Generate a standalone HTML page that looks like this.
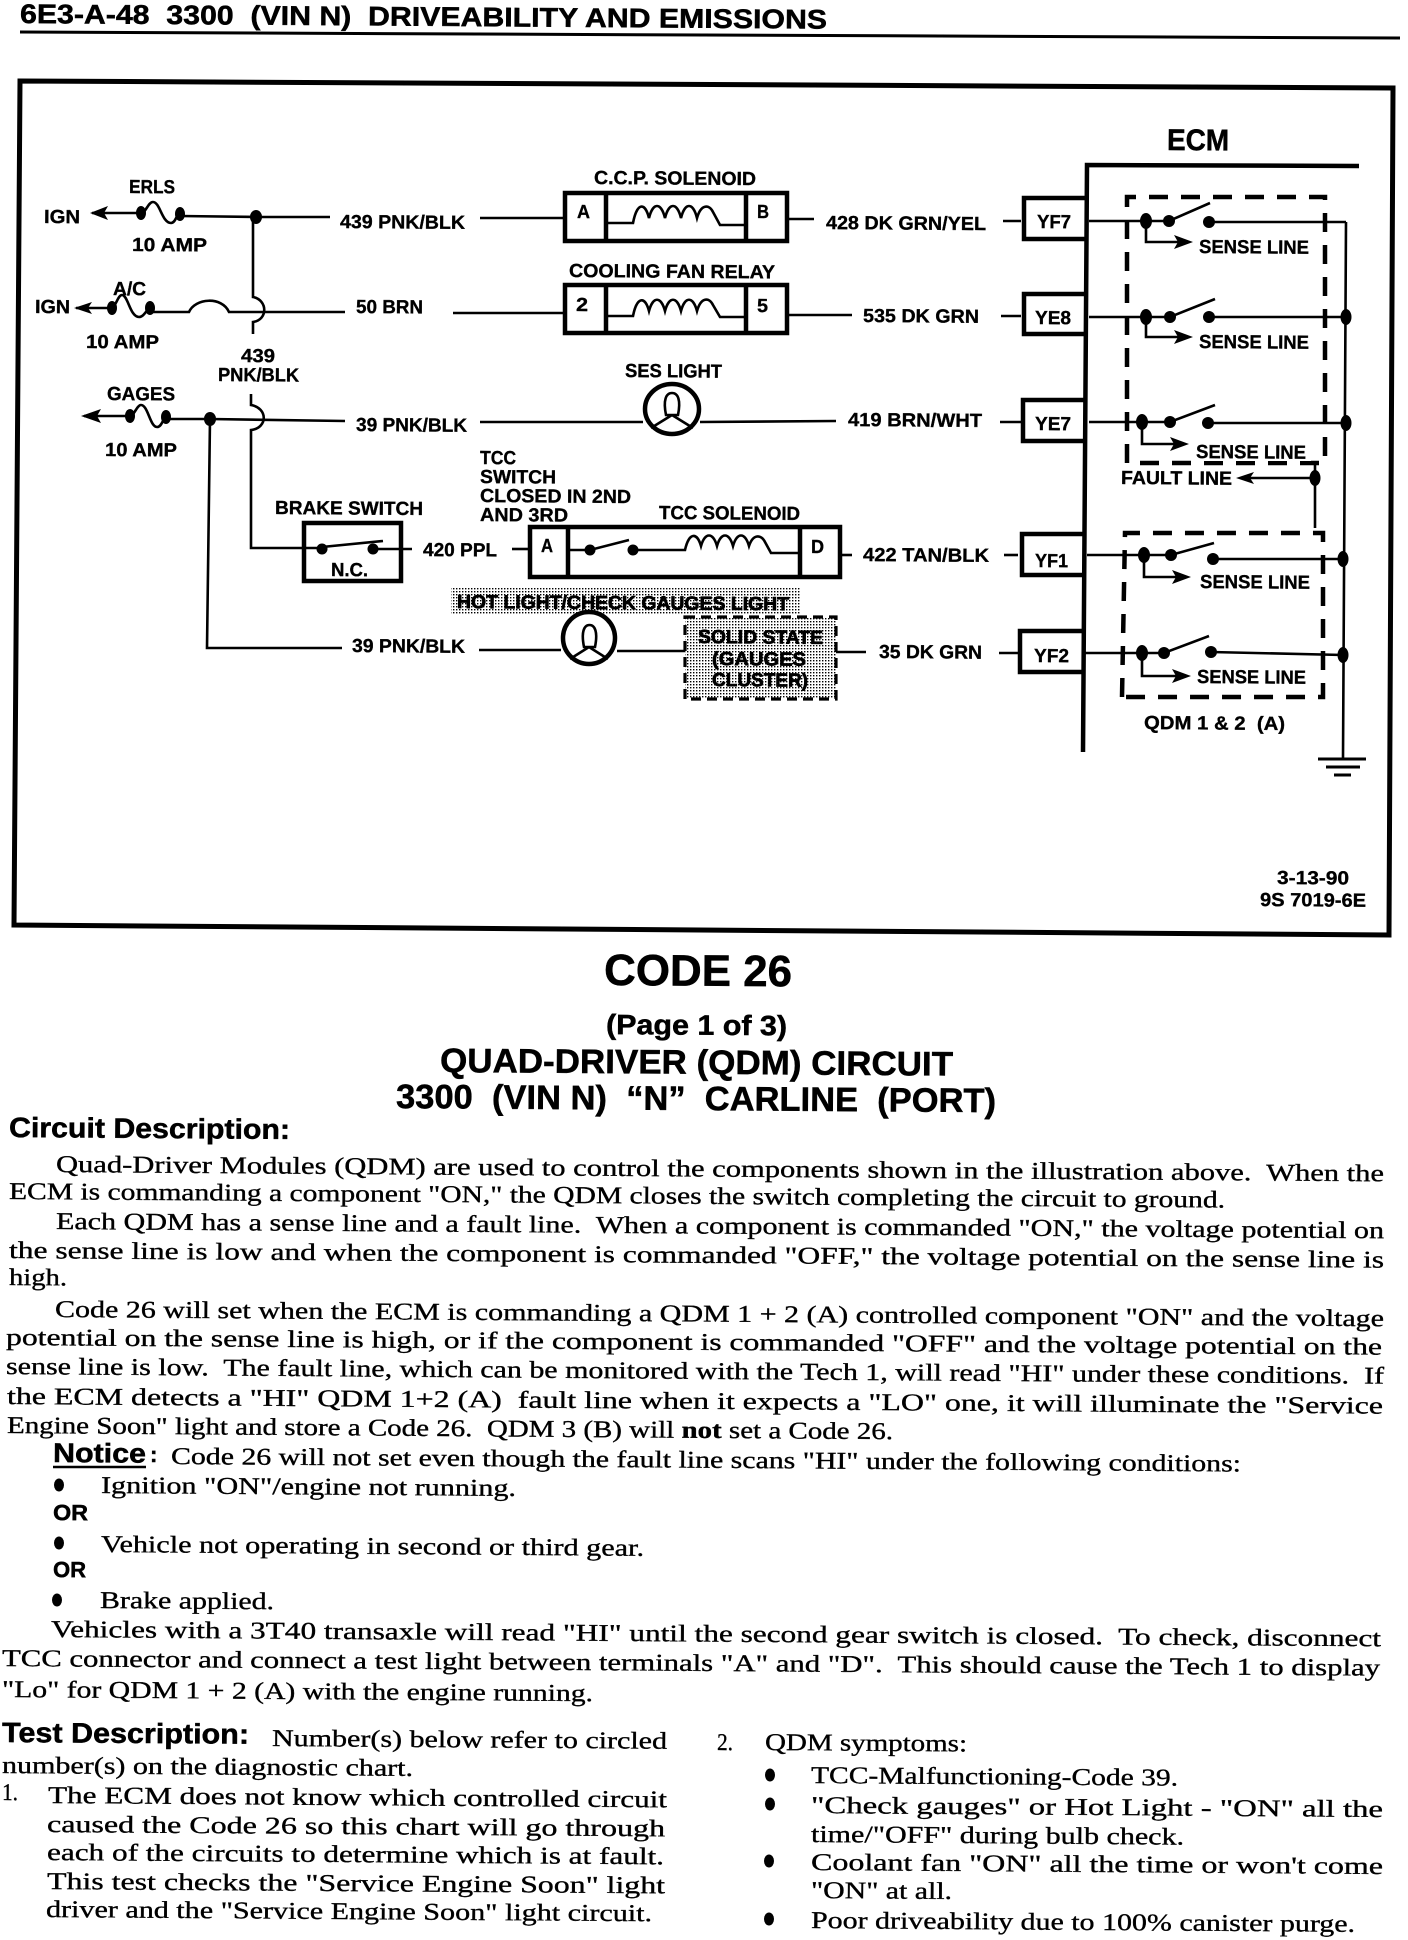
<!DOCTYPE html>
<html><head><meta charset="utf-8"><style>
html,body{margin:0;padding:0;background:#fff}
svg{display:block}
text{fill:#000;transform-box:fill-box;transform-origin:0 78%;transform:rotate(.4deg);white-space:pre}
.l{font:bold 19px "Liberation Sans",sans-serif;stroke:#000;stroke-width:.35}
.h{font-family:"Liberation Sans",sans-serif;font-weight:bold;stroke:#000;stroke-width:.5}
.b{font:24px "Liberation Serif",serif;stroke:#000;stroke-width:.35}
.w{fill:none;stroke:#000;stroke-width:2.6}
.t{fill:none;stroke:#000;stroke-width:4.5}
.d{fill:none;stroke:#000;stroke-width:4.5;stroke-dasharray:19 13}
</style></head><body>
<svg width="1408" height="1940" viewBox="0 0 1408 1940" xmlns="http://www.w3.org/2000/svg">
<defs><pattern id="dots" width="3" height="3" patternUnits="userSpaceOnUse"><rect width="1.4" height="1.4" fill="#000"/></pattern></defs>
<rect width="1408" height="1940" fill="#fff"/>

<!-- header -->
<text class="h" x="20" y="23" font-size="27" textLength="807" lengthAdjust="spacingAndGlyphs">6E3-A-48  3300  (VIN N)  DRIVEABILITY AND EMISSIONS</text>
<path d="M20 32 L704 35 L1400 38" fill="none" stroke="#000" stroke-width="3"/>

<!-- frame -->
<path d="M20 81 L1393 88 L1389 935 L14 925 Z" fill="none" stroke="#000" stroke-width="5"/>

<!-- left fuses -->
<g class="w">
<path d="M92 213 H141"/><path d="M141 213 C146 213 148 202 153 202 C160 202 162 223 171 223 C176 223 176 214 180 214"/>
<path d="M180 216 L256 217 H330"/>
<path d="M253 217 V297 C268 300 268 320 253 322 V334"/>
<path d="M76 308 H112"/><path d="M112 308 C116 306 118 295 122 295 C128 295 130 317 139 317 C144 317 146 310 150 308"/>
<path d="M150 312 H189 C195 298 222 296 229 312 H345"/>
<path d="M84 416 H130"/><path d="M130 416 C134 416 137 405 141 405 C148 405 150 427 157 427 C162 427 163 418 166 417"/>
<path d="M166 419 H210 L345 421"/>
<path d="M251 394 V405 C268 408 268 428 251 430 V548 H302"/>
<path d="M210 419 L207 648 H342"/>
<path d="M480 218 H565"/><path d="M453 313 H565"/><path d="M480 422 H643"/><path d="M700 422 L836 421"/>
<path d="M479 650 H561"/><path d="M617 651 H685"/><path d="M836 652 H866"/>
<path d="M789 219 H814"/><path d="M1003 221 H1021"/>
<path d="M788 315 H852"/><path d="M1001 316 H1021"/>
<path d="M1000 422 H1021"/>
<path d="M841 555 H852"/><path d="M1004 555 H1018"/>
<path d="M999 653 H1018"/>
<path d="M412 549 H373"/><path d="M512 549 H528"/>
</g>
<g fill="#000">
<path d="M90 213 L108 206 L104 213 L108 220 Z"/>
<path d="M74 308 L92 302 L88 308 L92 314 Z"/>
<path d="M81 416 L101 409 L97 416 L101 423 Z"/>
<ellipse cx="141" cy="213" rx="5" ry="7"/><ellipse cx="180" cy="214" rx="5" ry="7"/><ellipse cx="256" cy="217" rx="6" ry="7"/>
<ellipse cx="112" cy="308" rx="5" ry="7"/><ellipse cx="150" cy="308" rx="5" ry="7"/>
<ellipse cx="130" cy="416" rx="5" ry="7"/><ellipse cx="166" cy="417" rx="5" ry="7"/><ellipse cx="210" cy="419" rx="6" ry="7"/>
</g>
<text class="l" x="129" y="193" textLength="46" lengthAdjust="spacingAndGlyphs">ERLS</text>
<text class="l" x="44" y="223" textLength="36" lengthAdjust="spacingAndGlyphs">IGN</text>
<text class="l" x="132" y="251" textLength="75" lengthAdjust="spacingAndGlyphs">10 AMP</text>
<text class="l" x="340" y="228" textLength="125" lengthAdjust="spacingAndGlyphs">439 PNK/BLK</text>
<text class="l" x="113" y="295" textLength="33" lengthAdjust="spacingAndGlyphs">A/C</text>
<text class="l" x="35" y="313" textLength="35" lengthAdjust="spacingAndGlyphs">IGN</text>
<text class="l" x="86" y="348" textLength="73" lengthAdjust="spacingAndGlyphs">10 AMP</text>
<text class="l" x="356" y="313" textLength="67" lengthAdjust="spacingAndGlyphs">50 BRN</text>
<text class="l" x="241" y="362" textLength="34" lengthAdjust="spacingAndGlyphs">439</text>
<text class="l" x="218" y="381" textLength="81" lengthAdjust="spacingAndGlyphs">PNK/BLK</text>
<text class="l" x="107" y="400" textLength="68" lengthAdjust="spacingAndGlyphs">GAGES</text>
<text class="l" x="105" y="456" textLength="72" lengthAdjust="spacingAndGlyphs">10 AMP</text>
<text class="l" x="356" y="431" textLength="111" lengthAdjust="spacingAndGlyphs">39 PNK/BLK</text>
<text class="l" x="352" y="652" textLength="113" lengthAdjust="spacingAndGlyphs">39 PNK/BLK</text>

<!-- CCP solenoid -->
<text class="l" x="594" y="184" textLength="162" lengthAdjust="spacingAndGlyphs">C.C.P. SOLENOID</text>
<rect x="565" y="193" width="222" height="48" class="t"/>
<path d="M606 193 V241 M746 193 V241" class="t"/>
<path d="M606 223 H633 C637 202 645 202 649 218 C653 202 661 202 665 218 C669 202 677 202 681 218 C685 202 693 202 697 218 C701 204 709 204 713 212 L720 225 H746" class="w"/>
<text class="l" x="577" y="218" textLength="13" lengthAdjust="spacingAndGlyphs">A</text>
<text class="l" x="757" y="218" textLength="12" lengthAdjust="spacingAndGlyphs">B</text>
<text class="l" x="826" y="229" textLength="160" lengthAdjust="spacingAndGlyphs">428 DK GRN/YEL</text>

<!-- cooling fan relay -->
<text class="l" x="569" y="277" textLength="206" lengthAdjust="spacingAndGlyphs">COOLING FAN RELAY</text>
<rect x="565" y="285" width="222" height="48" class="t"/>
<path d="M606 285 V333 M746 285 V333" class="t"/>
<path d="M606 316 H633 C637 296 645 296 649 311 C653 296 661 296 665 311 C669 296 677 296 681 311 C685 296 693 296 697 311 C701 297 709 297 713 305 L720 317 H746" class="w"/>
<text class="l" x="576" y="311" textLength="12" lengthAdjust="spacingAndGlyphs">2</text>
<text class="l" x="757" y="312" textLength="11" lengthAdjust="spacingAndGlyphs">5</text>
<text class="l" x="863" y="322" textLength="116" lengthAdjust="spacingAndGlyphs">535 DK GRN</text>

<!-- SES light -->
<text class="l" x="625" y="377" textLength="97" lengthAdjust="spacingAndGlyphs">SES LIGHT</text>
<ellipse cx="672" cy="409" rx="27" ry="25" class="t"/>
<path d="M666 415 C663 400 666 393 672 393 C678 393 681 400 678 415 Z M672 415 L651 428 M672 415 L693 428" class="w"/>
<text class="l" x="848" y="426" textLength="134" lengthAdjust="spacingAndGlyphs">419 BRN/WHT</text>

<!-- TCC labels -->
<text class="l" x="480" y="464" textLength="36" lengthAdjust="spacingAndGlyphs">TCC</text>
<text class="l" x="480" y="483" textLength="76" lengthAdjust="spacingAndGlyphs">SWITCH</text>
<text class="l" x="480" y="502" textLength="151" lengthAdjust="spacingAndGlyphs">CLOSED IN 2ND</text>
<text class="l" x="480" y="521" textLength="88" lengthAdjust="spacingAndGlyphs">AND 3RD</text>
<text class="l" x="659" y="519" textLength="141" lengthAdjust="spacingAndGlyphs">TCC SOLENOID</text>

<!-- brake switch -->
<text class="l" x="275" y="514" textLength="148" lengthAdjust="spacingAndGlyphs">BRAKE SWITCH</text>
<rect x="304" y="523" width="97" height="58" class="t"/>
<circle cx="322" cy="549" r="5.5"/><circle cx="373" cy="549" r="5.5"/>
<path d="M322 547 L383 541 M302 548 H322" class="w"/>
<text class="l" x="331" y="576" textLength="37" lengthAdjust="spacingAndGlyphs">N.C.</text>
<text class="l" x="423" y="556" textLength="74" lengthAdjust="spacingAndGlyphs">420 PPL</text>

<!-- TCC box -->
<rect x="530" y="527" width="310" height="50" class="t"/>
<path d="M568 527 V577 M800 527 V577" class="t"/>
<circle cx="590" cy="550" r="5.5"/><circle cx="633" cy="550" r="5.5"/>
<path d="M568 550 H590 L629 540 M633 550 H685 C689 532 697 532 701 546 C705 532 713 532 717 546 C721 532 729 532 733 546 C737 532 745 532 749 546 C753 534 761 534 765 542 L771 553 H800" class="w"/>
<text class="l" x="541" y="552" textLength="12" lengthAdjust="spacingAndGlyphs">A</text>
<text class="l" x="811" y="553" textLength="13" lengthAdjust="spacingAndGlyphs">D</text>
<text class="l" x="863" y="561" textLength="126" lengthAdjust="spacingAndGlyphs">422 TAN/BLK</text>

<!-- hot light -->
<rect x="451" y="587" width="349" height="28" fill="url(#dots)"/>
<text class="l" x="457" y="608" textLength="332" lengthAdjust="spacingAndGlyphs" style="stroke-width:.7">HOT LIGHT/CHECK GAUGES LIGHT</text>
<ellipse cx="589" cy="638" rx="26" ry="26" fill="#fff" class="t"/>
<path d="M584 647 C581 632 584 625 589.500 625 C595 625 598 632 595 647 Z M589 647 L570 659 M589 647 L608 659" class="w"/>
<rect x="685" y="617" width="151" height="82" fill="url(#dots)"/>
<rect x="685" y="617" width="151" height="82" fill="none" stroke="#000" stroke-width="3.200" stroke-dasharray="10 6"/>
<text class="l" x="698" y="643" textLength="125" lengthAdjust="spacingAndGlyphs" style="stroke-width:.7">SOLID STATE</text>
<text class="l" x="712" y="665" textLength="94" lengthAdjust="spacingAndGlyphs" style="stroke-width:.7">(GAUGES</text>
<text class="l" x="712" y="686" textLength="96" lengthAdjust="spacingAndGlyphs" style="stroke-width:.7">CLUSTER)</text>
<text class="l" x="879" y="658" textLength="103" lengthAdjust="spacingAndGlyphs">35 DK GRN</text>

<!-- ECM -->
<text class="h" x="1167" y="150" font-size="30" textLength="62" lengthAdjust="spacingAndGlyphs">ECM</text>
<path d="M1359 166 L1087 165 L1083 752" class="t" stroke-width="5"/>
<g class="t">
<path d="M1087 198 H1024 V239 H1087"/>
<path d="M1087 294 H1024 V334 H1087"/>
<path d="M1086 400 H1023 V441 H1086"/>
<path d="M1085 534 H1022 V575 H1085"/>
<path d="M1084 631 H1020 V672 H1084"/>
</g>
<text class="l" x="1037" y="228" textLength="34" lengthAdjust="spacingAndGlyphs">YF7</text>
<text class="l" x="1035" y="324" textLength="36" lengthAdjust="spacingAndGlyphs">YE8</text>
<text class="l" x="1035" y="430" textLength="36" lengthAdjust="spacingAndGlyphs">YE7</text>
<text class="l" x="1035" y="567" textLength="33" lengthAdjust="spacingAndGlyphs">YF1</text>
<text class="l" x="1034" y="662" textLength="35" lengthAdjust="spacingAndGlyphs">YF2</text>

<!-- dashed QDM boxes -->
<path d="M1127 463 V197 H1325 V463 H1127" class="d"/>
<path d="M1122 697 L1125 533 H1323 V697 H1122" class="d"/>

<!-- switch rows -->
<g class="w">
<path d="M1089 221 H1169 L1210 203 M1209 222 H1346 M1346 222 L1343 758"/>
<path d="M1146 221 V242 H1180"/>
<path d="M1089 317 H1170 L1215 299 M1209 317 H1346"/>
<path d="M1146 317 V337 H1180"/>
<path d="M1089 422 H1170 L1215 405 M1208 423 H1346"/>
<path d="M1142 422 V444 H1176"/>
<path d="M1087 555 H1171 L1214 543 M1213 559 H1343"/>
<path d="M1144 555 V577 H1178"/>
<path d="M1085 653 H1164 L1209 636 M1211 652 L1343 655"/>
<path d="M1142 653 V676 H1178"/>
<path d="M1315 463 V528 M1315 478 H1250"/>
</g>
<g fill="#000">
<ellipse cx="1146" cy="221" rx="6" ry="8"/><circle cx="1169" cy="221" r="6"/><circle cx="1209" cy="222" r="6"/>
<ellipse cx="1146" cy="317" rx="6" ry="8"/><circle cx="1170" cy="317" r="6"/><circle cx="1209" cy="317" r="6"/>
<ellipse cx="1142" cy="422" rx="6" ry="8"/><circle cx="1170" cy="422" r="6"/><circle cx="1208" cy="423" r="6"/>
<ellipse cx="1144" cy="555" rx="6" ry="8"/><circle cx="1171" cy="555" r="6"/><circle cx="1213" cy="559" r="6"/>
<ellipse cx="1142" cy="653" rx="6" ry="8"/><circle cx="1164" cy="653" r="6"/><circle cx="1211" cy="652" r="6"/>
<ellipse cx="1346" cy="317" rx="5.500" ry="8"/><ellipse cx="1346" cy="423" rx="5.500" ry="8"/><ellipse cx="1343" cy="559" rx="5.500" ry="8"/><ellipse cx="1343" cy="655" rx="5.500" ry="8"/><ellipse cx="1315" cy="478" rx="5.500" ry="8"/>
<path d="M1193 242 L1174 235 L1178 242 L1174 249 Z"/>
<path d="M1193 337 L1174 330 L1178 337 L1174 344 Z"/>
<path d="M1189 444 L1170 437 L1174 444 L1170 451 Z"/>
<path d="M1191 577 L1172 570 L1176 577 L1172 584 Z"/>
<path d="M1191 676 L1172 669 L1176 676 L1172 683 Z"/>
<path d="M1236 478 L1254 472 L1250 478 L1254 484 Z"/>
</g>
<rect x="1193" y="443" width="118" height="18" fill="#fff"/>
<text class="l" x="1199" y="253" textLength="110" lengthAdjust="spacingAndGlyphs">SENSE LINE</text>
<text class="l" x="1199" y="348" textLength="110" lengthAdjust="spacingAndGlyphs">SENSE LINE</text>
<text class="l" x="1196" y="458" textLength="110" lengthAdjust="spacingAndGlyphs">SENSE LINE</text>
<text class="l" x="1200" y="588" textLength="110" lengthAdjust="spacingAndGlyphs">SENSE LINE</text>
<text class="l" x="1197" y="683" textLength="109" lengthAdjust="spacingAndGlyphs">SENSE LINE</text>
<text class="l" x="1121" y="484" textLength="111" lengthAdjust="spacingAndGlyphs">FAULT LINE</text>
<text class="l" x="1144" y="729" textLength="141" lengthAdjust="spacingAndGlyphs">QDM 1 &amp; 2  (A)</text>
<path d="M1318 759 H1366 M1326 767 H1360 M1334 775 H1351" fill="none" stroke="#000" stroke-width="3"/>
<text class="l" x="1277" y="884" textLength="72" lengthAdjust="spacingAndGlyphs">3-13-90</text>
<text class="l" x="1260" y="906" textLength="106" lengthAdjust="spacingAndGlyphs">9S 7019-6E</text>

<!-- headings -->
<text class="h" x="604" y="985" font-size="44" textLength="188" lengthAdjust="spacingAndGlyphs">CODE 26</text>
<text class="h" x="606" y="1034" font-size="28" textLength="181" lengthAdjust="spacingAndGlyphs">(Page 1 of 3)</text>
<text class="h" x="440" y="1072" font-size="34" textLength="513" lengthAdjust="spacingAndGlyphs">QUAD-DRIVER (QDM) CIRCUIT</text>
<text class="h" x="396" y="1108" font-size="34" textLength="600" lengthAdjust="spacingAndGlyphs">3300  (VIN N)  “N”  CARLINE  (PORT)</text>
<text class="h" x="9" y="1137" font-size="28" textLength="281" lengthAdjust="spacingAndGlyphs">Circuit Description:</text>

<!-- body -->
<text class="b" x="56" y="1172" textLength="1328" lengthAdjust="spacingAndGlyphs">Quad-Driver Modules (QDM) are used to control the components shown in the illustration above.  When the</text>
<text class="b" x="9" y="1199" textLength="1216" lengthAdjust="spacingAndGlyphs">ECM is commanding a component "ON," the QDM closes the switch completing the circuit to ground.</text>
<text class="b" x="56" y="1229" textLength="1328" lengthAdjust="spacingAndGlyphs">Each QDM has a sense line and a fault line.  When a component is commanded "ON," the voltage potential on</text>
<text class="b" x="9" y="1258" textLength="1375" lengthAdjust="spacingAndGlyphs">the sense line is low and when the component is commanded "OFF," the voltage potential on the sense line is</text>
<text class="b" x="9" y="1285" textLength="58" lengthAdjust="spacingAndGlyphs">high.</text>
<text class="b" x="55" y="1317" textLength="1329" lengthAdjust="spacingAndGlyphs">Code 26 will set when the ECM is commanding a QDM 1 + 2 (A) controlled component "ON" and the voltage</text>
<text class="b" x="6" y="1345" textLength="1376" lengthAdjust="spacingAndGlyphs">potential on the sense line is high, or if the component is commanded "OFF" and the voltage potential on the</text>
<text class="b" x="6" y="1374" textLength="1378" lengthAdjust="spacingAndGlyphs">sense line is low.  The fault line, which can be monitored with the Tech 1, will read "HI" under these conditions.  If</text>
<text class="b" x="7" y="1404" textLength="1376" lengthAdjust="spacingAndGlyphs">the ECM detects a "HI" QDM 1+2 (A)  fault line when it expects a "LO" one, it will illuminate the "Service</text>
<text class="b" x="7" y="1433" textLength="886" lengthAdjust="spacingAndGlyphs">Engine Soon" light and store a Code 26.  QDM 3 (B) will <tspan font-weight="bold">not</tspan> set a Code 26.</text>

<text class="h" x="53" y="1462" font-size="27" textLength="93" lengthAdjust="spacingAndGlyphs">Notice</text>
<path d="M53 1467 H146" stroke="#000" stroke-width="2.500"/>
<text class="h" x="150" y="1462" font-size="22">:</text>
<text class="b" x="171" y="1464" textLength="1070" lengthAdjust="spacingAndGlyphs">Code 26 will not set even though the fault line scans "HI" under the following conditions:</text>
<ellipse cx="59" cy="1485" rx="5" ry="6.500"/>
<text class="b" x="101" y="1493" textLength="415" lengthAdjust="spacingAndGlyphs">Ignition "ON"/engine not running.</text>
<text class="h" x="53" y="1520" font-size="22" textLength="35" lengthAdjust="spacingAndGlyphs">OR</text>
<ellipse cx="59" cy="1543" rx="5" ry="6.500"/>
<text class="b" x="101" y="1552" textLength="543" lengthAdjust="spacingAndGlyphs">Vehicle not operating in second or third gear.</text>
<text class="h" x="53" y="1577" font-size="22" textLength="33" lengthAdjust="spacingAndGlyphs">OR</text>
<ellipse cx="57" cy="1600" rx="5" ry="6.500"/>
<text class="b" x="100" y="1608" textLength="174" lengthAdjust="spacingAndGlyphs">Brake applied.</text>
<text class="b" x="51" y="1637" textLength="1330" lengthAdjust="spacingAndGlyphs">Vehicles with a 3T40 transaxle will read "HI" until the second gear switch is closed.  To check, disconnect</text>
<text class="b" x="2" y="1666" textLength="1378" lengthAdjust="spacingAndGlyphs">TCC connector and connect a test light between terminals "A" and "D".  This should cause the Tech 1 to display</text>
<text class="b" x="2" y="1697" textLength="591" lengthAdjust="spacingAndGlyphs">"Lo" for QDM 1 + 2 (A) with the engine running.</text>

<text class="h" x="2" y="1742" font-size="28" textLength="247" lengthAdjust="spacingAndGlyphs">Test Description:</text>
<text class="b" x="272" y="1746" textLength="395" lengthAdjust="spacingAndGlyphs">Number(s) below refer to circled</text>
<text class="b" x="2" y="1773" textLength="411" lengthAdjust="spacingAndGlyphs">number(s) on the diagnostic chart.</text>
<text class="b" x="2" y="1800" textLength="16" lengthAdjust="spacingAndGlyphs">1.</text>
<text class="b" x="48" y="1803" textLength="619" lengthAdjust="spacingAndGlyphs">The ECM does not know which controlled circuit</text>
<text class="b" x="47" y="1832" textLength="618" lengthAdjust="spacingAndGlyphs">caused the Code 26 so this chart will go through</text>
<text class="b" x="47" y="1860" textLength="617" lengthAdjust="spacingAndGlyphs">each of the circuits to determine which is at fault.</text>
<text class="b" x="47" y="1889" textLength="618" lengthAdjust="spacingAndGlyphs">This test checks the "Service Engine Soon" light</text>
<text class="b" x="46" y="1917" textLength="606" lengthAdjust="spacingAndGlyphs">driver and the "Service Engine Soon" light circuit.</text>

<text class="b" x="717" y="1750" textLength="16" lengthAdjust="spacingAndGlyphs">2.</text>
<text class="b" x="765" y="1750" textLength="202" lengthAdjust="spacingAndGlyphs">QDM symptoms:</text>
<ellipse cx="770" cy="1775" rx="5" ry="6.500"/>
<text class="b" x="811" y="1783" textLength="367" lengthAdjust="spacingAndGlyphs">TCC-Malfunctioning-Code 39.</text>
<ellipse cx="770" cy="1804" rx="5" ry="6.500"/>
<text class="b" x="811" y="1813" textLength="572" lengthAdjust="spacingAndGlyphs">"Check gauges" or Hot Light - "ON" all the</text>
<text class="b" x="811" y="1842" textLength="373" lengthAdjust="spacingAndGlyphs">time/"OFF" during bulb check.</text>
<ellipse cx="769" cy="1861" rx="5" ry="6.500"/>
<text class="b" x="811" y="1870" textLength="572" lengthAdjust="spacingAndGlyphs">Coolant fan "ON" all the time or won't come</text>
<text class="b" x="811" y="1898" textLength="141" lengthAdjust="spacingAndGlyphs">"ON" at all.</text>
<ellipse cx="769" cy="1919" rx="5" ry="6.500"/>
<text class="b" x="811" y="1928" textLength="544" lengthAdjust="spacingAndGlyphs">Poor driveability due to 100% canister purge.</text>
</svg>
</body></html>
